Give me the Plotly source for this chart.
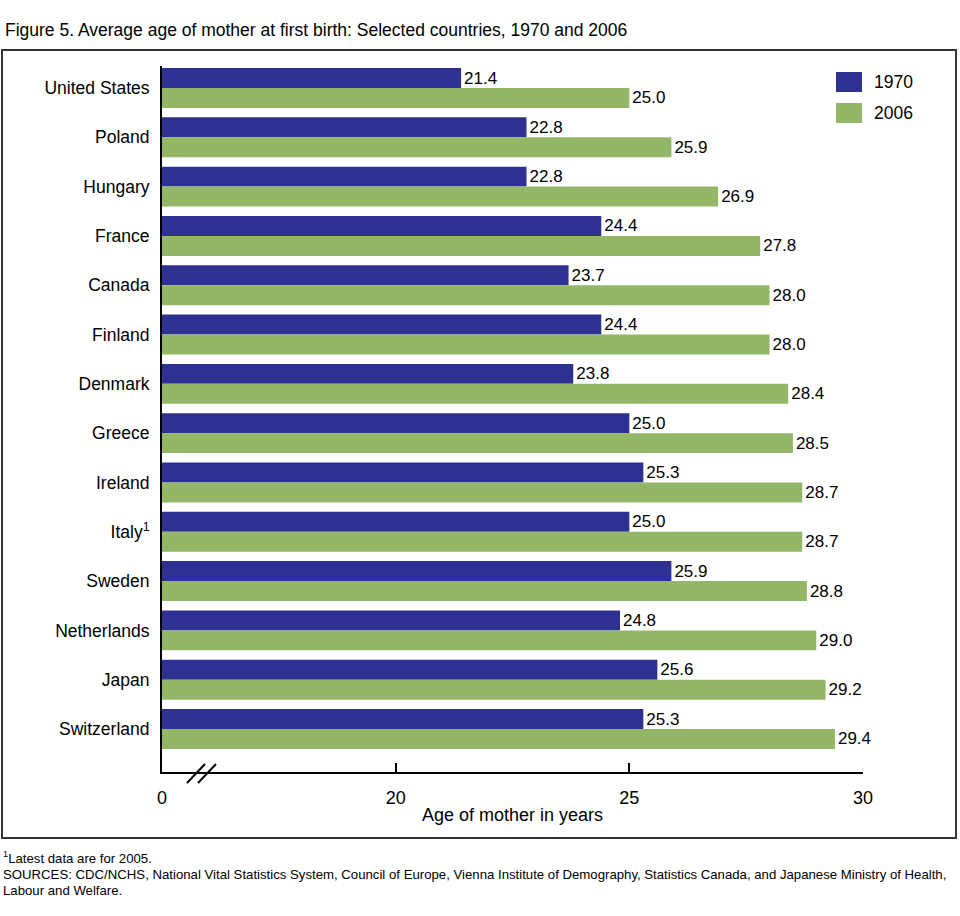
import plotly.graph_objects as go

countries = ["United States", "Poland", "Hungary", "France", "Canada", "Finland",
             "Denmark", "Greece", "Ireland", "Italy<sup>1</sup>", "Sweden",
             "Netherlands", "Japan", "Switzerland"]
age_1970 = [21.4, 22.8, 22.8, 24.4, 23.7, 24.4, 23.8, 25.0, 25.3, 25.0, 25.9, 24.8, 25.6, 25.3]
age_2006 = [25.0, 25.9, 26.9, 27.8, 28.0, 28.0, 28.4, 28.5, 28.7, 28.7, 28.8, 29.0, 29.2, 29.4]
series_names = ["1970", "2006"]
x_tickvals = [15, 20, 25, 30]
x_ticktext = ["0", "20", "25", "30"]

BLUE = "#2E3192"
GREEN = "#94B767"
FONT = "Liberation Sans, Arial, sans-serif"

W, H = 960, 916
L, R, T, B = 162, 863, 66, 772
pw, ph = R - L, B - T


def px(x):
    return (x - L) / pw


def py(y):
    return (B - y) / ph


fig = go.Figure()
for name, vals, col in [(series_names[0], age_1970, BLUE), (series_names[1], age_2006, GREEN)]:
    fig.add_trace(go.Bar(
        y=countries, x=vals, name=name, orientation="h",
        marker=dict(color=col, line=dict(width=0)),
        texttemplate="%{x:.1f}", textposition="outside",
        textfont=dict(family=FONT, size=17, color="black"),
        cliponaxis=False, showlegend=False,
    ))

ux = 15 / pw

shapes = []
# outer frame
shapes.append(dict(type="rect", xref="paper", yref="paper",
                   x0=px(2), x1=px(956), y0=py(838), y1=py(50),
                   line=dict(color="#333333", width=2), fillcolor="rgba(0,0,0,0)", layer="below"))
# axis break marks
for xa, xb in [(187, 205), (198, 216)]:
    shapes.append(dict(type="line", xref="x", yref="paper",
                       x0=15 + (xa - L) * ux, x1=15 + (xb - L) * ux,
                       y0=py(783), y1=py(764),
                       line=dict(color="black", width=2)))
# legend swatches
for (y0, y1), col in [((72, 92), BLUE), ((103, 123), GREEN)]:
    shapes.append(dict(type="rect", xref="paper", yref="paper",
                       x0=px(836), x1=px(862), y0=py(y1), y1=py(y0),
                       line=dict(width=0), fillcolor=col))

annotations = [
    dict(text="Figure 5. Average age of mother at first birth: Selected countries, 1970 and 2006",
         xref="paper", yref="paper", x=px(3), y=py(30), xanchor="left", yanchor="middle",
         showarrow=False, font=dict(family=FONT, size=17.5, color="black")),
    dict(text=series_names[0], xref="paper", yref="paper", x=px(872), y=py(82),
         xanchor="left", yanchor="middle", showarrow=False,
         font=dict(family=FONT, size=17.5, color="black")),
    dict(text=series_names[1], xref="paper", yref="paper", x=px(872), y=py(113),
         xanchor="left", yanchor="middle", showarrow=False,
         font=dict(family=FONT, size=17.5, color="black")),
    dict(text="Age of mother in years", xref="paper", yref="paper",
         x=px(512.5), y=py(815), xanchor="center", yanchor="middle", showarrow=False,
         font=dict(family=FONT, size=18, color="black")),
    dict(text="<sup>1</sup>Latest data are for 2005.", xref="paper", yref="paper",
         x=px(1), y=py(857), xanchor="left", yanchor="middle", showarrow=False,
         font=dict(family=FONT, size=13.2, color="black")),
    dict(text="SOURCES: CDC/NCHS, National Vital Statistics System, Council of Europe, Vienna Institute of Demography, Statistics Canada, and Japanese Ministry of Health,",
         xref="paper", yref="paper", x=px(1), y=py(874), xanchor="left", yanchor="middle",
         showarrow=False, font=dict(family=FONT, size=13.2, color="black")),
    dict(text="Labour and Welfare.", xref="paper", yref="paper",
         x=px(1), y=py(890), xanchor="left", yanchor="middle", showarrow=False,
         font=dict(family=FONT, size=13.2, color="black")),
]

cat_top = -(88 - T) / 49.3
cat_bot = 13 + (B - 729) / 49.3

fig.update_layout(
    width=W, height=H,
    margin=dict(l=L, r=W - R, t=T, b=H - B, pad=0),
    paper_bgcolor="white", plot_bgcolor="white",
    barmode="group", bargap=0.19, bargroupgap=0,
    font=dict(family=FONT, size=17, color="black"),
    shapes=shapes, annotations=annotations,
    xaxis=dict(range=[15, 30], tickvals=x_tickvals, ticktext=x_ticktext,
               showgrid=False, zeroline=False,
               showline=True, linecolor="black", linewidth=2,
               ticks="inside", ticklen=9, tickwidth=2, tickcolor="black",
               tickfont=dict(family=FONT, size=18, color="black"),
               ticklabelstandoff=8),
    yaxis=dict(type="category", categoryorder="array", categoryarray=countries,
               range=[cat_bot, cat_top], showgrid=False, zeroline=False,
               showline=True, linecolor="black", linewidth=2, ticks="",
               tickfont=dict(family=FONT, size=17.5, color="black"),
               ticklabelstandoff=7),
)

fig.write_html("out.html", config={"displayModeBar": False},
               post_script="document.body.style.margin='0';document.body.style.overflow='hidden';")
